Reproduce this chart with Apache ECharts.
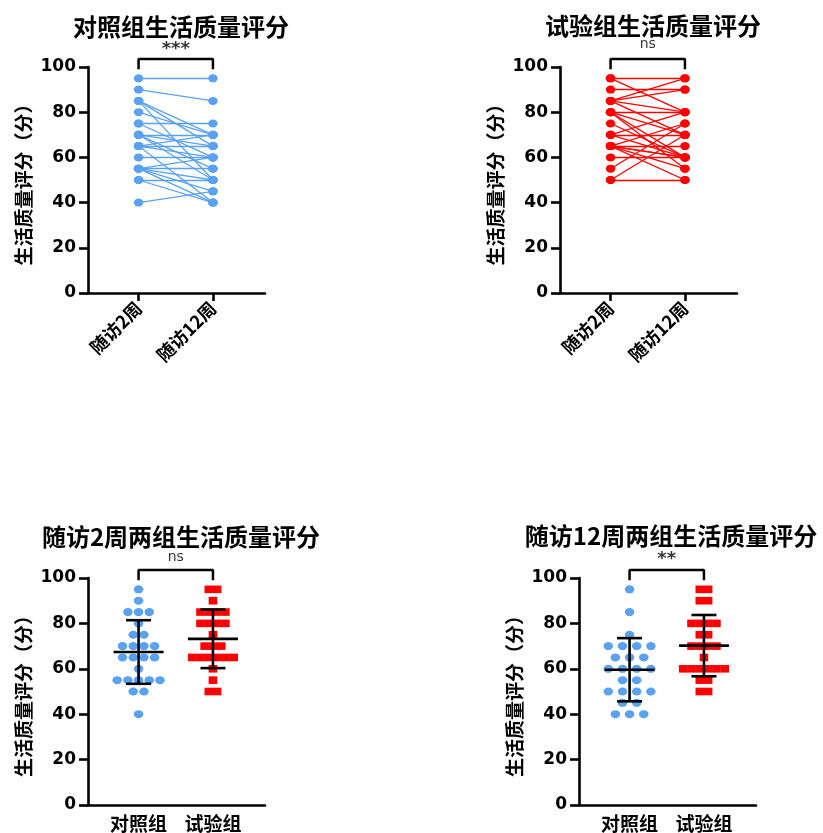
<!DOCTYPE html>
<html>
<head>
<meta charset="utf-8">
<script src="https://cdn.jsdelivr.net/npm/echarts@6/dist/echarts.min.js"></script>
<style>html,body{margin:0;padding:0;background:#fff}#c{width:823px;height:833px}</style>
</head>
<body>
<div id="c"></div>
<script>
// ---- data ----
const timeLabels = ['随访2周', '随访12周'];
const groupLabels = ['对照组', '试验组'];
const yTicks = [0, 20, 40, 60, 80, 100];
const panelTitles = ['对照组生活质量评分', '试验组生活质量评分', '随访2周两组生活质量评分', '随访12周两组生活质量评分'];
const sigMarks = ['***', 'ns', 'ns', '**'];
const yAxisName = '生活质量评分（分）';
// paired subjects (same index = same subject)
const ctrlWeek2  = [95,90,85,85,85,80,75,75,70,70,70,70,65,65,65,65,60,55,55,55,55,55,50,50,40];
const ctrlWeek12 = [95,85,70,50,65,70,75,60,70,65,50,55,65,60,40,70,60,60,55,50,45,40,50,40,45];
const testWeek2  = [95,95,90,85,85,85,85,80,80,80,80,75,70,70,70,65,65,65,65,65,65,60,55,50,50];
const testWeek12 = [95,80,90,95,90,80,70,80,60,55,70,60,80,70,60,65,60,55,60,75,50,60,75,50,70];

// ---- styling / layout ----
const BLUE = '#5aa2f0', RED = '#ff0000', BLACK = '#000';
const X_MIN = -0.68, X_MAX = 1.70, GRID_W = 177;
const PX_PER_UNIT = GRID_W / (X_MAX - X_MIN);
const grids = [
  {left: 88, top: 67, width: GRID_W, height: 226},
  {left: 560, top: 67, width: GRID_W, height: 226},
  {left: 88, top: 578, width: GRID_W, height: 227},
  {left: 579, top: 578, width: GRID_W, height: 227}
];
const titlePos = [[176, 10], [648, 9], [176, 520], [666, 519]];
const NUMFONT = '"DejaVu Sans", "Liberation Sans", sans-serif';
const CJK = '"Noto Sans CJK SC", "Noto Sans", sans-serif';

function mean(a){return a.reduce((s,v)=>s+v,0)/a.length;}
function sd(a){const m=mean(a);return Math.sqrt(a.reduce((s,v)=>s+(v-m)*(v-m),0)/(a.length-1));}
function swarm(values, xc, stepPx){
  const counts={}, seen={};
  values.forEach(v=>counts[v]=(counts[v]||0)+1);
  const step = stepPx / PX_PER_UNIT;
  return values.map(v=>{const i=(seen[v]=(seen[v]||0)+1)-1; return [xc+(i-(counts[v]-1)/2)*step, v];});
}

const xAxes = grids.map((g,i)=>({
  gridIndex:i, type:'value', min:X_MIN, max:X_MAX,
  splitLine:{show:false},
  axisLine:{show:true, onZero:false, lineStyle:{color:BLACK, width:2.6}},
  axisTick:{show:i<2, customValues:[0,1], length:8, lineStyle:{color:BLACK, width:2.6}},
  axisLabel:{customValues:[0,1], rotate:i<2?45:0, margin:i<2?12:9,
    formatter:v=>(i<2?timeLabels:groupLabels)[Math.round(v)],
    color:BLACK, fontWeight:'bold', fontSize:i<2?18:19, fontFamily:CJK}
}));
const yAxes = grids.map((g,i)=>({
  gridIndex:i, type:'value', min:0, max:100, interval:20,
  splitLine:{show:false},
  axisLine:{show:true, onZero:false, lineStyle:{color:BLACK, width:2.6}},
  axisTick:{show:true, length:9, lineStyle:{color:BLACK, width:2.6}},
  axisLabel:{color:BLACK, fontWeight:'bold', fontSize:17, fontFamily:NUMFONT, margin:12,
    customValues: yTicks},
  name: yAxisName, nameLocation:'middle', nameGap:55,
  nameTextStyle:{color:BLACK, fontWeight:'bold', fontSize:19, fontFamily:CJK}
}));

const series = [];
// paired line panels
[[ctrlWeek2, ctrlWeek12, BLUE],[testWeek2, testWeek12, RED]].forEach(([a,b,col],i)=>{
  series.push({type:'lines', coordinateSystem:'cartesian2d', xAxisIndex:i, yAxisIndex:i,
    silent:true, lineStyle:{color:col, width:1.3, opacity:1},
    data:a.map((v,k)=>({coords:[[0,v],[1,b[k]]]}))});
  series.push({type:'scatter', xAxisIndex:i, yAxisIndex:i, symbol:'circle', symbolSize:[9.5,8],
    itemStyle:{color:col, opacity:1},
    data:a.map(v=>[0,v]).concat(b.map(v=>[1,v]))});
});
// group comparison panels
[[ctrlWeek2, testWeek2, 10.7],[ctrlWeek12, testWeek12, 14.2]].forEach(([c,t,dotStep],j)=>{
  const i = j+2;
  series.push({type:'scatter', xAxisIndex:i, yAxisIndex:i, symbol:'circle', symbolSize:[9.5,8],
    itemStyle:{color:BLUE, opacity:1}, data:swarm(c,0,dotStep)});
  series.push({type:'scatter', xAxisIndex:i, yAxisIndex:i, symbol:'rect', symbolSize:[8.6,7.6],
    itemStyle:{color:RED, opacity:1}, data:swarm(t,1,8.3)});
  series.push({type:'custom', xAxisIndex:i, yAxisIndex:i, z:10, silent:true,
    data:[[0,mean(c),sd(c)],[1,mean(t),sd(t)]],
    renderItem:(p,api)=>{
      const x=api.value(0), m=api.value(1), s=api.value(2);
      const c0=api.coord([x,m]), ct=api.coord([x,m+s]), cb=api.coord([x,m-s]);
      const st={stroke:BLACK, lineWidth:2.6};
      const seg=(x1,y1,x2,y2)=>({type:'line', shape:{x1,y1,x2,y2}, style:st});
      return {type:'group', children:[
        seg(ct[0],ct[1],cb[0],cb[1]),
        seg(ct[0]-12.5,ct[1],ct[0]+12.5,ct[1]),
        seg(cb[0]-12.5,cb[1],cb[0]+12.5,cb[1]),
        seg(c0[0]-25,c0[1],c0[0]+25,c0[1])
      ]};
    }});
});
// significance brackets and marks
const sigY = [107.8, 110, 109.3, 108.2];
grids.forEach((g,i)=>{
  series.push({type:'line', xAxisIndex:i, yAxisIndex:i, clip:false, silent:true, symbol:'none',
    lineStyle:{color:BLACK, width:2.5}, data:[[0,99],[0,103.5],[1,103.5],[1,99]]});
  const isNs = sigMarks[i]==='ns';
  series.push({type:'scatter', xAxisIndex:i, yAxisIndex:i, clip:false, silent:true, symbolSize:0,
    data:[[0.5, sigY[i]]],
    label:{show:true, position:'inside', formatter:sigMarks[i], color:BLACK,
      fontSize:isNs?14:18, fontWeight:isNs?'normal':'bold', fontFamily:NUMFONT}});
});

const option = {
  animation:false,
  backgroundColor:'#fff',
  title: panelTitles.map((t,i)=>({text:t, left:titlePos[i][0], top:titlePos[i][1], textAlign:'center',
    textStyle:{color:BLACK, fontWeight:'bold', fontSize:24, fontFamily:CJK}})),
  grid: grids, xAxis: xAxes, yAxis: yAxes, series
};
const chart = echarts.init(document.getElementById('c'), null, {renderer:'canvas'});
chart.setOption(option);
</script>
</body>
</html>
